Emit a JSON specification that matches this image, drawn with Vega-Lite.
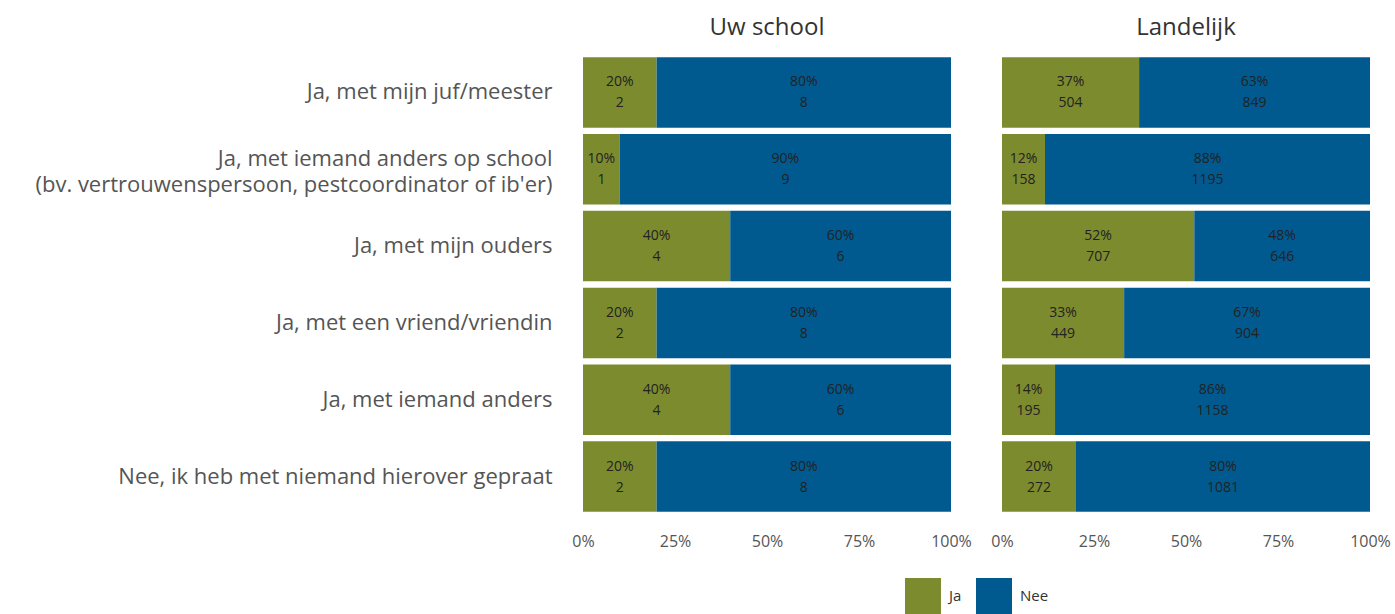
{
  "$schema": "https://vega.github.io/schema/vega-lite/v6.json",
  "padding": {"left": 0, "top": 16, "right": 5, "bottom": 0},
  "bounds": "flush",
  "background": "white",
  "data": {
    "values": [
      {"panel": "Uw school", "vraag": "Ja, met mijn juf/meester", "antwoord": "Ja", "aantal": 2, "pct": "20%"},
      {"panel": "Uw school", "vraag": "Ja, met mijn juf/meester", "antwoord": "Nee", "aantal": 8, "pct": "80%"},
      {"panel": "Uw school", "vraag": "Ja, met iemand anders op school |(bv. vertrouwenspersoon, pestcoordinator of ib'er)", "antwoord": "Ja", "aantal": 1, "pct": "10%"},
      {"panel": "Uw school", "vraag": "Ja, met iemand anders op school |(bv. vertrouwenspersoon, pestcoordinator of ib'er)", "antwoord": "Nee", "aantal": 9, "pct": "90%"},
      {"panel": "Uw school", "vraag": "Ja, met mijn ouders", "antwoord": "Ja", "aantal": 4, "pct": "40%"},
      {"panel": "Uw school", "vraag": "Ja, met mijn ouders", "antwoord": "Nee", "aantal": 6, "pct": "60%"},
      {"panel": "Uw school", "vraag": "Ja, met een vriend/vriendin", "antwoord": "Ja", "aantal": 2, "pct": "20%"},
      {"panel": "Uw school", "vraag": "Ja, met een vriend/vriendin", "antwoord": "Nee", "aantal": 8, "pct": "80%"},
      {"panel": "Uw school", "vraag": "Ja, met iemand anders", "antwoord": "Ja", "aantal": 4, "pct": "40%"},
      {"panel": "Uw school", "vraag": "Ja, met iemand anders", "antwoord": "Nee", "aantal": 6, "pct": "60%"},
      {"panel": "Uw school", "vraag": "Nee, ik heb met niemand hierover gepraat", "antwoord": "Ja", "aantal": 2, "pct": "20%"},
      {"panel": "Uw school", "vraag": "Nee, ik heb met niemand hierover gepraat", "antwoord": "Nee", "aantal": 8, "pct": "80%"},
      {"panel": "Landelijk", "vraag": "Ja, met mijn juf/meester", "antwoord": "Ja", "aantal": 504, "pct": "37%"},
      {"panel": "Landelijk", "vraag": "Ja, met mijn juf/meester", "antwoord": "Nee", "aantal": 849, "pct": "63%"},
      {"panel": "Landelijk", "vraag": "Ja, met iemand anders op school |(bv. vertrouwenspersoon, pestcoordinator of ib'er)", "antwoord": "Ja", "aantal": 158, "pct": "12%"},
      {"panel": "Landelijk", "vraag": "Ja, met iemand anders op school |(bv. vertrouwenspersoon, pestcoordinator of ib'er)", "antwoord": "Nee", "aantal": 1195, "pct": "88%"},
      {"panel": "Landelijk", "vraag": "Ja, met mijn ouders", "antwoord": "Ja", "aantal": 707, "pct": "52%"},
      {"panel": "Landelijk", "vraag": "Ja, met mijn ouders", "antwoord": "Nee", "aantal": 646, "pct": "48%"},
      {"panel": "Landelijk", "vraag": "Ja, met een vriend/vriendin", "antwoord": "Ja", "aantal": 449, "pct": "33%"},
      {"panel": "Landelijk", "vraag": "Ja, met een vriend/vriendin", "antwoord": "Nee", "aantal": 904, "pct": "67%"},
      {"panel": "Landelijk", "vraag": "Ja, met iemand anders", "antwoord": "Ja", "aantal": 195, "pct": "14%"},
      {"panel": "Landelijk", "vraag": "Ja, met iemand anders", "antwoord": "Nee", "aantal": 1158, "pct": "86%"},
      {"panel": "Landelijk", "vraag": "Nee, ik heb met niemand hierover gepraat", "antwoord": "Ja", "aantal": 272, "pct": "20%"},
      {"panel": "Landelijk", "vraag": "Nee, ik heb met niemand hierover gepraat", "antwoord": "Nee", "aantal": 1081, "pct": "80%"}
    ]
  },
  "facet": {
    "column": {
      "field": "panel",
      "type": "nominal",
      "sort": ["Uw school", "Landelijk"],
      "title": null,
      "header": {"labelFontSize": 24, "labelColor": "#333333", "labelFont": "Open Sans", "labelPadding": 14}
    }
  },
  "spacing": {"column": 51},
  "spec": {
    "width": 368,
    "height": 461,
    "encoding": {
      "y": {
        "field": "vraag",
        "type": "nominal",
        "sort": null,
        "title": null,
        "scale": {"paddingInner": 0.082, "paddingOuter": 0.041},
        "axis": {
          "domain": false,
          "ticks": false,
          "labelFontSize": 22,
          "labelColor": "#555555",
          "labelFont": "Open Sans",
          "labelPadding": 31,
          "labelLimit": 700,
          "labelLineHeight": 26,
          "labelOffset": {"condition": {"test": "indexof(datum.value, '|') >= 0", "value": -10}, "value": 0},
          "minExtent": 583,
          "maxExtent": 583,
          "labelExpr": "split(datum.label, '|')"
        }
      },
      "x": {
        "field": "aantal",
        "type": "quantitative",
        "stack": "normalize",
        "title": null,
        "axis": {
          "values": [0, 0.25, 0.5, 0.75, 1],
          "format": ".0%",
          "domain": false,
          "ticks": false,
          "grid": false,
          "labelFlush": false,
          "labelFontSize": 16,
          "labelColor": "#555555",
          "labelFont": "Open Sans",
          "labelPadding": 18
        }
      },
      "order": {"field": "antwoord", "type": "nominal"},
      "detail": {"field": "antwoord", "type": "nominal"}
    },
    "layer": [
      {
        "mark": {"type": "bar"},
        "encoding": {
          "color": {
            "field": "antwoord",
            "type": "nominal",
            "scale": {"domain": ["Ja", "Nee"], "range": ["#7c8b2e", "#005a8f"]},
            "legend": {
              "title": null,
              "orient": "none",
              "direction": "horizontal",
              "legendX": 322,
              "legendY": 524,
              "symbolType": "square",
              "symbolSize": 1296,
              "symbolStrokeWidth": 0,
              "labelFontSize": 15,
              "labelFont": "Open Sans",
              "labelColor": "#333333",
              "labelOffset": 8,
              "columnPadding": 14
            }
          }
        }
      },
      {
        "mark": {"type": "text", "dy": -10, "fontSize": 14, "font": "Open Sans", "color": "#222222"},
        "encoding": {
          "x": {"field": "aantal", "type": "quantitative", "stack": "normalize", "bandPosition": 0.5},
          "text": {"field": "pct", "type": "nominal"}
        }
      },
      {
        "mark": {"type": "text", "dy": 11, "fontSize": 14, "font": "Open Sans", "color": "#222222"},
        "encoding": {
          "x": {"field": "aantal", "type": "quantitative", "stack": "normalize", "bandPosition": 0.5},
          "text": {"field": "aantal", "type": "quantitative"}
        }
      }
    ]
  },
  "config": {"view": {"stroke": null}}
}
